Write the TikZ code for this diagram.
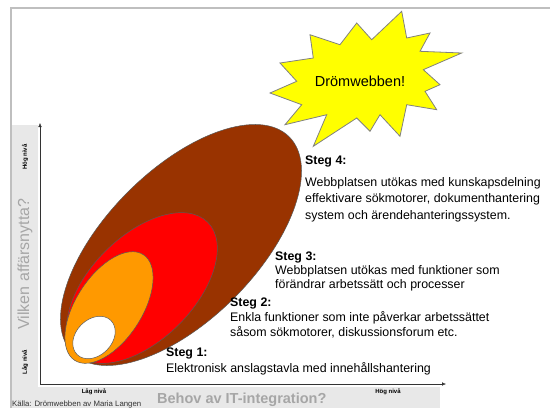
\documentclass[tikz,border=0pt]{standalone}
\usepackage{fontspec}
\setmainfont{Liberation Sans}
\usetikzlibrary{arrows.meta}
\definecolor{brun}{RGB}{153,51,0}
\definecolor{stegorange}{RGB}{255,153,0}
\definecolor{gulstjarna}{RGB}{255,255,0}
\begin{document}
\begin{tikzpicture}[x=1pt,y=-1pt,
    ramlinje/.style={draw=black!25, line width=1.5pt},
    stegtext/.style={anchor=west, inner sep=0pt, align=left},
    niva/.style={font=\fontsize{6}{7}\selectfont\bfseries, inner sep=0pt},
    fraga/.style={text=black!35, inner sep=0pt},
    nivafalt/.style={draw=black!65, line width=0.5pt}]
    \useasboundingbox (0,0) rectangle (550,408);
    \fill[black!9] (11,125) rectangle (38,408);
    \fill[black!9] (11,387) rectangle (440,408);
    \draw[ramlinje] (11,408) -- (11,8) -- (550,8);
    \coordinate (O) at (40,384);
    \coordinate (ytopp) at (40,123);
    \coordinate (xslut) at (446,384);
    \draw[-{Latex[length=4pt,width=3.5pt]}, black!80] (O) -- (ytopp);
    \draw[-{Latex[length=4pt,width=3.5pt]}, black!80] (O) -- (xslut);
    \draw[nivafalt, fill=brun, rotate around={45:(181,245)}] (181,245) ellipse [x radius=153, y radius=75];
    \draw[nivafalt, fill=red, rotate around={45:(142,288)}] (142,288) ellipse [x radius=93, y radius=52];
    \draw[nivafalt, fill=stegorange, rotate around={57:(109,307.5)}] (109,307.5) ellipse [x radius=63, y radius=33];
    \draw[nivafalt, fill=white, rotate around={45:(94,337.5)}] (94,337.5) ellipse [x radius=24, y radius=18];
    \draw[fill=gulstjarna, draw=black!50, line width=0.8pt] (401.7,11.3) -- (406.7,38) -- (430,33) -- (420,51.3)
        -- (461.7,53) -- (423.3,69.7) -- (440,84.7) -- (425,91.3) -- (436.7,109.7) -- (406.7,104.7)
        -- (400,136.3) -- (380,114.7) -- (370,131.3) -- (356.7,118) -- (313.3,146.3) -- (326.7,114.7)
        -- (285,124.7) -- (301.7,104.7) -- (270,93) -- (296.7,81.3) -- (280,63) -- (313.3,58)
        -- (310,34.7) -- (340,44.7) -- (356.7,23) -- (371.7,39.7) -- cycle;
    \node (drom) at (360,81) [font=\fontsize{14.5}{16}\selectfont] {Drömwebben!};
    \node (steg4rubrik) at (305,161) [stegtext, font=\fontsize{12.4}{15}\selectfont\bfseries] {Steg 4:};
    \node (steg4) at (305,199.5) [stegtext, font=\fontsize{12.4}{16.5}\selectfont] {Webbplatsen utökas med kunskapsdelning\\effektivare sökmotorer, dokumenthantering\\system och ärendehanteringssystem.};
    \node (steg3) at (275,271) [stegtext, font=\fontsize{12.4}{14}\selectfont] {\textbf{Steg 3:}\\Webbplatsen utökas med funktioner som\\förändrar arbetssätt och processer};
    \node (steg2) at (230,318) [stegtext, font=\fontsize{12.4}{15}\selectfont] {\textbf{Steg 2:}\\Enkla funktioner som inte påverkar arbetssättet\\såsom sökmotorer, diskussionsforum etc.};
    \node (steg1) at (166,361) [stegtext, font=\fontsize{12.4}{16}\selectfont] {\textbf{Steg 1:}\\Elektronisk anslagstavla med innehållshantering};
    \node (yhog) at (25,157) [niva, rotate=90] {Hög nivå};
    \node (ylag) at (25,362) [niva, rotate=90] {Låg nivå};
    \node (xlag) at (94,392) [niva] {Låg nivå};
    \node (xhog) at (388,392) [niva] {Hög nivå};
    \node (nytta) at (25,264) [fraga, rotate=90, font=\fontsize{16}{18}\selectfont] {Vilken affärsnytta?};
    \node (behov) at (157,400) [fraga, anchor=west, font=\fontsize{14.5}{16}\selectfont\bfseries] {Behov av IT-integration?};
    \node (kalla) at (12,404) [anchor=west, inner sep=0pt, text=black!80, font=\fontsize{7.8}{9}\selectfont] {Källa: Drömwebben av Maria Langen};
\end{tikzpicture}
\end{document}
